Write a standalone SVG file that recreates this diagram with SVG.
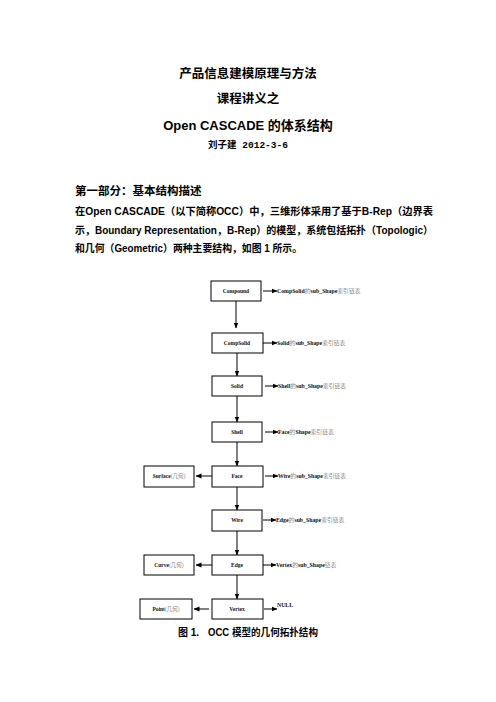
<svg xmlns="http://www.w3.org/2000/svg" width="496" height="702" viewBox="0 0 496 702">
<defs>
<marker id="ah" markerWidth="6" markerHeight="6" refX="5.5" refY="3" orient="auto" markerUnits="userSpaceOnUse">
<path d="M0,0.6 L6,3 L0,5.4 Z" fill="#000"/>
</marker>
<style>
.h{font-family:"Liberation Sans","Noto Sans CJK SC",sans-serif;font-weight:bold;fill:#000;text-anchor:middle}
.c{font-family:"Liberation Sans","Noto Sans CJK SC",sans-serif;font-weight:bold;fill:#000;font-size:10px}
.b{font-family:"Liberation Sans","Noto Sans CJK SC",sans-serif;font-weight:bold;fill:#000;font-size:10.5px}
.box{fill:#fff;stroke:#000;stroke-width:1}
.bl{font-family:"Liberation Serif","Noto Sans CJK SC",serif;font-size:5.5px;font-weight:bold;fill:#111;text-anchor:middle}
.rl{font-family:"Liberation Serif","Noto Sans CJK SC",serif;font-size:5.8px;font-weight:bold;fill:#111}
.cj{fill:#888;font-weight:normal}
.ln{stroke:#000;stroke-width:1;fill:none;marker-end:url(#ah)}
</style>
</defs>
<rect width="496" height="702" fill="#fff"/>
<g id="header">
<text class="h" x="248" y="78" font-size="12.5">产品信息建模原理与方法</text>
<text class="h" x="248" y="103" font-size="12.5">课程讲义之</text>
<text class="h" x="248" y="130" font-size="13">Open CASCADE 的体系结构</text>
<text class="h" x="248" y="148" font-size="9.5" style="font-family:'Liberation Mono','Noto Sans CJK SC',monospace">刘子建 2012-3-6</text>
<text x="75" y="195" class="b" style="font-size:11.5px">第一部分：基本结构描述</text>
<text class="b" x="75" y="215" textLength="358" lengthAdjust="spacingAndGlyphs">在Open CASCADE（以下简称OCC）中，三维形体采用了基于B-Rep（边界表</text>
<text class="b" x="75" y="234" textLength="358" lengthAdjust="spacingAndGlyphs">示，Boundary Representation，B-Rep）的模型，系统包括拓扑（Topologic）</text>
<text class="b" x="75" y="252" textLength="227" lengthAdjust="spacingAndGlyphs">和几何（Geometric）两种主要结构，如图 1 所示。</text>
</g>
<g id="connectors">
<line class="ln" x1="236" y1="301" x2="236" y2="328"/>
<line class="ln" x1="237" y1="353" x2="237" y2="376"/>
<line class="ln" x1="237" y1="396" x2="237" y2="422"/>
<line class="ln" x1="237" y1="442" x2="237" y2="466"/>
<line class="ln" x1="237" y1="487" x2="237" y2="510"/>
<line class="ln" x1="237" y1="531" x2="237" y2="555"/>
<line class="ln" x1="237" y1="575" x2="237" y2="599"/>
<line class="ln" x1="263" y1="291" x2="277" y2="291"/>
<line class="ln" x1="263" y1="343" x2="277" y2="343"/>
<line class="ln" x1="265" y1="386" x2="278" y2="386"/>
<line class="ln" x1="265" y1="432" x2="278" y2="432"/>
<line class="ln" x1="265" y1="476" x2="278" y2="476"/>
<line class="ln" x1="263" y1="520" x2="276" y2="520"/>
<line class="ln" x1="263" y1="565" x2="276" y2="565"/>
<line class="ln" x1="264" y1="609" x2="277" y2="609"/>
<line class="ln" x1="212" y1="476" x2="196" y2="476"/>
<line class="ln" x1="212" y1="565" x2="196" y2="565"/>
<line class="ln" x1="209" y1="609" x2="194" y2="609"/>
</g>
<g id="compound"><rect class="box" x="211" y="281" width="50" height="20"/><text class="bl" x="236" y="293">Compound</text></g>
<g id="compsolid"><rect class="box" x="212" y="333" width="51" height="20"/><text class="bl" x="237" y="345">CompSolid</text></g>
<g id="solid"><rect class="box" x="212" y="376" width="50" height="20"/><text class="bl" x="237" y="388">Solid</text></g>
<g id="shell"><rect class="box" x="212" y="422" width="50" height="20"/><text class="bl" x="237" y="434">Shell</text></g>
<g id="face"><rect class="box" x="212" y="466" width="51" height="21"/><text class="bl" x="237" y="478">Face</text></g>
<g id="wire"><rect class="box" x="212" y="510" width="50" height="21"/><text class="bl" x="237" y="522">Wire</text></g>
<g id="edge"><rect class="box" x="212" y="555" width="51" height="20"/><text class="bl" x="237" y="567">Edge</text></g>
<g id="vertex"><rect class="box" x="212" y="599" width="51" height="20"/><text class="bl" x="237" y="611">Vertex</text></g>
<g id="surface"><rect class="box" x="144" y="466" width="50" height="21"/><text class="bl" x="169" y="478">Surface<tspan class="cj">(几何)</tspan></text></g>
<g id="curve"><rect class="box" x="144" y="555" width="50" height="20"/><text class="bl" x="169" y="567">Curve<tspan class="cj">(几何)</tspan></text></g>
<g id="point"><rect class="box" x="140" y="599" width="52" height="20"/><text class="bl" x="166" y="611">Point<tspan class="cj">(几何)</tspan></text></g>
<g id="labels">
<text class="rl" x="277" y="293">CompSolid<tspan class="cj">的</tspan>sub_Shape<tspan class="cj">索引链表</tspan></text>
<text class="rl" x="277" y="345">Solid<tspan class="cj">的</tspan>sub_Shape<tspan class="cj">索引链表</tspan></text>
<text class="rl" x="278" y="388">Shell<tspan class="cj">的</tspan>sub_Shape<tspan class="cj">索引链表</tspan></text>
<text class="rl" x="278" y="434">Face<tspan class="cj">的</tspan>Shape<tspan class="cj">索引链表</tspan></text>
<text class="rl" x="278" y="478">Wire<tspan class="cj">的</tspan>sub_Shape<tspan class="cj">索引链表</tspan></text>
<text class="rl" x="276" y="522">Edge<tspan class="cj">的</tspan>sub_Shape<tspan class="cj">索引链表</tspan></text>
<text class="rl" x="276" y="567">Vertex<tspan class="cj">的</tspan>sub_Shape<tspan class="cj">链表</tspan></text>
<text class="rl" x="277" y="607">NULL</text>
</g>
<g id="caption">
<text class="c" x="178" y="636">图 1.</text>
<text class="c" x="208" y="636" textLength="110" lengthAdjust="spacingAndGlyphs">OCC 模型的几何拓扑结构</text>
</g>
</svg>
